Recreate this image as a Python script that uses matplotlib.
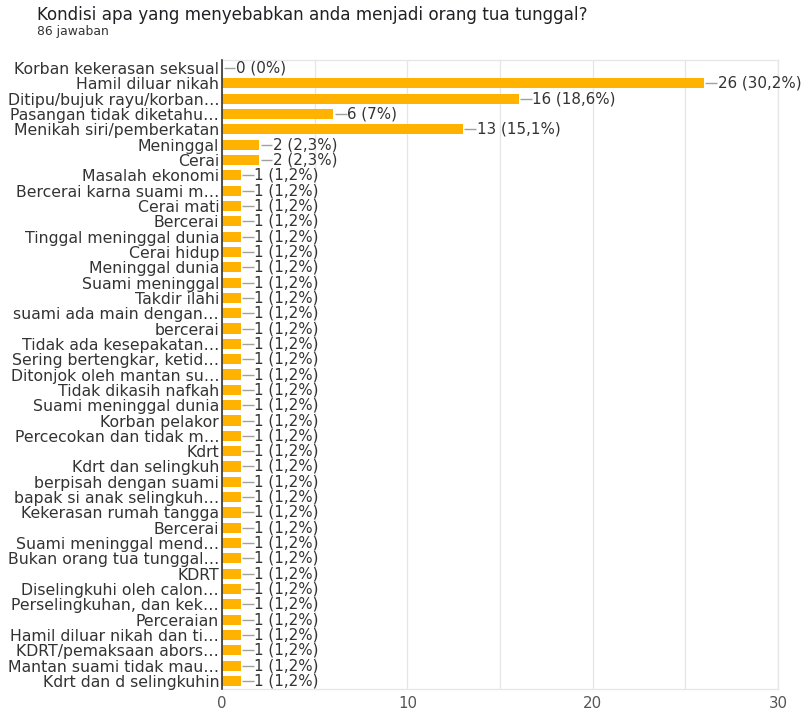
import matplotlib
matplotlib.use("Agg")
import matplotlib.pyplot as plt

title = "Kondisi apa yang menyebabkan anda menjadi orang tua tunggal?"
subtitle = "86 jawaban"
total = 86

categories = [
    "Korban kekerasan seksual", "Hamil diluar nikah", "Ditipu/bujuk rayu/korban…",
    "Pasangan tidak diketahu…", "Menikah siri/pemberkatan", "Meninggal", "Cerai",
    "Masalah ekonomi", "Bercerai karna suami m…", "Cerai mati", "Bercerai",
    "Tinggal meninggal dunia", "Cerai hidup", "Meninggal dunia", "Suami meninggal",
    "Takdir ilahi", "suami ada main dengan…", "bercerai", "Tidak ada kesepakatan…",
    "Sering bertengkar, ketid…", "Ditonjok oleh mantan su…", "Tidak dikasih nafkah",
    "Suami meninggal dunia", "Korban pelakor", "Percecokan dan tidak m…", "Kdrt",
    "Kdrt dan selingkuh", "berpisah dengan suami", "bapak si anak selingkuh…",
    "Kekerasan rumah tangga", "Bercerai", "Suami meninggal mend…",
    "Bukan orang tua tunggal…", "KDRT", "Diselingkuhi oleh calon…",
    "Perselingkuhan, dan kek…", "Perceraian", "Hamil diluar nikah dan ti…",
    "KDRT/pemaksaan abors…", "Mantan suami tidak mau…", "Kdrt dan d selingkuhin",
]
values = [0, 26, 16, 6, 13, 2, 2] + [1] * 34
xticks = [0, 10, 20, 30]

def pct(v):
    p = round(v / total * 100, 1)
    s = ("%.1f" % p).rstrip("0").rstrip(".")
    return s.replace(".", ",")

fig = plt.figure(figsize=(8.05, 7.1), dpi=100)
ax = fig.add_axes([0.2758, 0.030, 0.6907, 0.885])

ypos = list(range(len(categories)))
ax.barh(ypos, values, height=0.66, color="#FFB300", zorder=3)
ax.set_ylim(len(categories) - 0.5, -0.5)
ax.set_xlim(0, 30)

for i, v in enumerate(values):
    ax.plot([v + 0.08, v + 0.72], [i, i], color="#a0a0a0", lw=1.0, zorder=3,
            solid_capstyle="butt")
    ax.text(v + 0.75, i, f"{v} ({pct(v)}%)", va="center", ha="left",
            fontsize=10.9, color="#333333", zorder=4)

ax.set_yticks(ypos)
ax.set_yticklabels(categories, fontsize=11.3, color="#333333")
ax.set_xticks(xticks)
ax.set_xticklabels([str(t) for t in xticks], fontsize=10.8, color="#555555")
ax.set_xticks(range(0, 31, 5), minor=True)
ax.tick_params(axis="both", which="both", length=0)
ax.tick_params(axis="y", pad=2)
ax.tick_params(axis="x", pad=5)
ax.grid(axis="x", which="both", color="#e6e6e6", lw=0.9, zorder=0)
for s in ["top", "right", "bottom"]:
    ax.spines[s].set_color("#e6e6e6")
    ax.spines[s].set_linewidth(0.9)
ax.spines["left"].set_color("#333333")
ax.spines["left"].set_linewidth(1.2)
ax.spines["left"].set_zorder(5)

fig.text(37 / 805, 1 - 15 / 710, title, fontsize=12.1, color="#202124",
         va="center", ha="left")
fig.text(37 / 805, 1 - 32 / 710, subtitle, fontsize=8.9, color="#333333",
         va="center", ha="left")

fig.savefig("out.png", dpi=100)
